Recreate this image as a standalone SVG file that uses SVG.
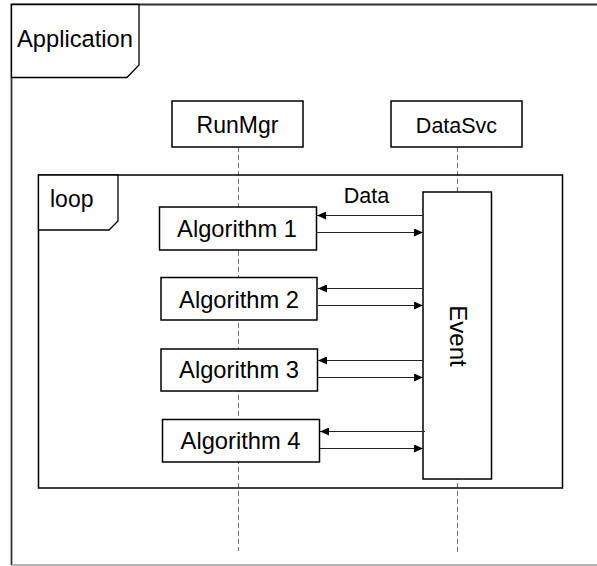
<svg xmlns="http://www.w3.org/2000/svg" width="597" height="566" viewBox="0 0 597 566">
<style>
.box{fill:#fff;stroke:#000;stroke-width:1.5}
.frame{fill:none;stroke:#000;stroke-width:1.5}
.tab{fill:#fff;stroke:#000;stroke-width:1.3}
.life{stroke:#777;stroke-width:1;stroke-dasharray:5,3;fill:none}
.msg{stroke:#222;stroke-width:1;fill:none;marker-end:url(#ah)}
.t{font-family:"Liberation Sans",Arial,sans-serif;font-size:23px;fill:#000}
.a{font-size:23.7px}
.c{text-anchor:middle}
</style>
<defs>
<marker id="ah" markerWidth="10" markerHeight="8" refX="9" refY="4" orient="auto" markerUnits="userSpaceOnUse">
<path d="M0,0 L9,4 L0,8 Z" fill="#000"/>
</marker>
</defs>
<rect width="597" height="566" fill="#fff"/>
<g id="application">
<path d="M11.5,565 V4.5 H600" fill="none" stroke="#333" stroke-width="1.8"/>
<line x1="11.5" y1="565" x2="597" y2="565" stroke="#999" stroke-width="1.5"/>
<path class="tab" d="M11.5,4.5 H139 V65 L127,77.5 H11.5 Z"/>
<text class="t a" x="17" y="47">Application</text>
</g>
<g id="lifelines">
<line class="life" x1="238.5" y1="147" x2="238.5" y2="551"/>
<line class="life" x1="457.5" y1="147" x2="457.5" y2="552"/>
</g>
<g id="runmgr">
<rect class="box" x="172" y="101" width="131" height="46"/>
<text class="t c" x="237.5" y="133">RunMgr</text>
</g>
<g id="datasvc">
<rect class="box" x="391" y="101" width="131" height="46"/>
<text class="t c" x="456.5" y="133" style="font-size:21.5px">DataSvc</text>
</g>
<g id="loop">
<rect class="frame" x="38.5" y="175" width="524" height="313"/>
<path class="tab" d="M38.5,175 H118 V221 L109,230 H38.5 Z"/>
<text class="t" x="50" y="207">loop</text>
</g>
<g id="event">
<rect class="box" x="423" y="192" width="68.5" height="287"/>
<text class="t c" transform="translate(450,336) rotate(90)" x="0" y="0" style="font-size:24px">Event</text>
</g>
<g id="alg1">
<rect class="box" x="159.5" y="207" width="157" height="43"/>
<text class="t a c" x="237" y="237">Algorithm 1</text>
</g>
<g id="alg2">
<rect class="box" x="161" y="277.5" width="156" height="42.5"/>
<text class="t a c" x="239" y="308">Algorithm 2</text>
</g>
<g id="alg3">
<rect class="box" x="161" y="349" width="156.5" height="42"/>
<text class="t a c" x="239" y="378">Algorithm 3</text>
</g>
<g id="alg4">
<rect class="box" x="162.5" y="419.5" width="157" height="42.5"/>
<text class="t a c" x="240.5" y="449">Algorithm 4</text>
</g>
<g id="connectors">
<line class="msg" x1="423" y1="215.5" x2="317" y2="215.5"/>
<line class="msg" x1="317" y1="232.5" x2="423" y2="232.5"/>
<line class="msg" x1="423" y1="288.5" x2="318" y2="288.5"/>
<line class="msg" x1="318" y1="305.5" x2="423" y2="305.5"/>
<line class="msg" x1="423" y1="360.5" x2="318" y2="360.5"/>
<line class="msg" x1="318" y1="377.5" x2="423" y2="377.5"/>
<line class="msg" x1="425" y1="431.5" x2="320" y2="431.5"/>
<line class="msg" x1="320" y1="448.5" x2="423" y2="448.5"/>
<text class="t c" x="366.5" y="203" style="font-size:21.5px">Data</text>
</g>
</svg>
